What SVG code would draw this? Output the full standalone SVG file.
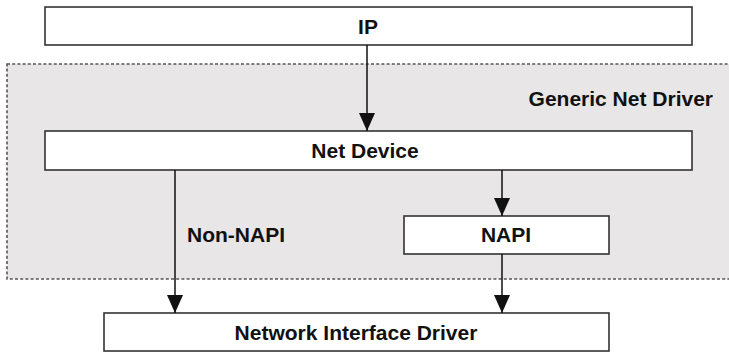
<svg xmlns="http://www.w3.org/2000/svg" width="729" height="352" viewBox="0 0 729 352">
<defs>
<style>
.box{fill:#ffffff;stroke:#333333;stroke-width:1.6}
.lbl{font-family:"Liberation Sans",Arial,sans-serif;font-weight:bold;font-size:21px;fill:#111111}
.mid{text-anchor:middle}
.conn{stroke:#111111;stroke-width:1.5;fill:none;marker-end:url(#ah)}
</style>
<marker id="ah" markerUnits="userSpaceOnUse" markerWidth="18" markerHeight="16" refX="18" refY="8" orient="auto">
<path d="M0,0 L18,8 L0,16 z" fill="#111111"/>
</marker>
</defs>
<rect width="729" height="352" fill="#ffffff"/>
<g id="generic-net-driver">
<rect x="7" y="64" width="730" height="215" fill="#e8e6e6" stroke="#555555" stroke-width="1.6" stroke-dasharray="3,2.2"/>
<text class="lbl" x="713" y="106" text-anchor="end">Generic Net Driver</text>
</g>
<g id="ip">
<rect class="box" x="45" y="7" width="647" height="38"/>
<text class="lbl mid" x="368" y="33.5">IP</text>
</g>
<g id="net-device">
<rect class="box" x="45" y="131" width="647" height="39"/>
<text class="lbl mid" x="365" y="158">Net Device</text>
</g>
<g id="napi">
<rect class="box" x="404" y="216" width="205" height="38"/>
<text class="lbl mid" x="506" y="242">NAPI</text>
</g>
<g id="network-interface-driver">
<rect class="box" x="104" y="313" width="505" height="38"/>
<text class="lbl mid" x="356" y="340">Network Interface Driver</text>
</g>
<g id="connectors">
<line class="conn" x1="367" y1="45" x2="367" y2="131"/>
<line class="conn" x1="502" y1="170" x2="502" y2="216"/>
<line class="conn" x1="175" y1="170" x2="175" y2="313"/>
<line class="conn" x1="502" y1="254" x2="502" y2="313"/>
<text class="lbl" x="187" y="242">Non-NAPI</text>
</g>
</svg>
